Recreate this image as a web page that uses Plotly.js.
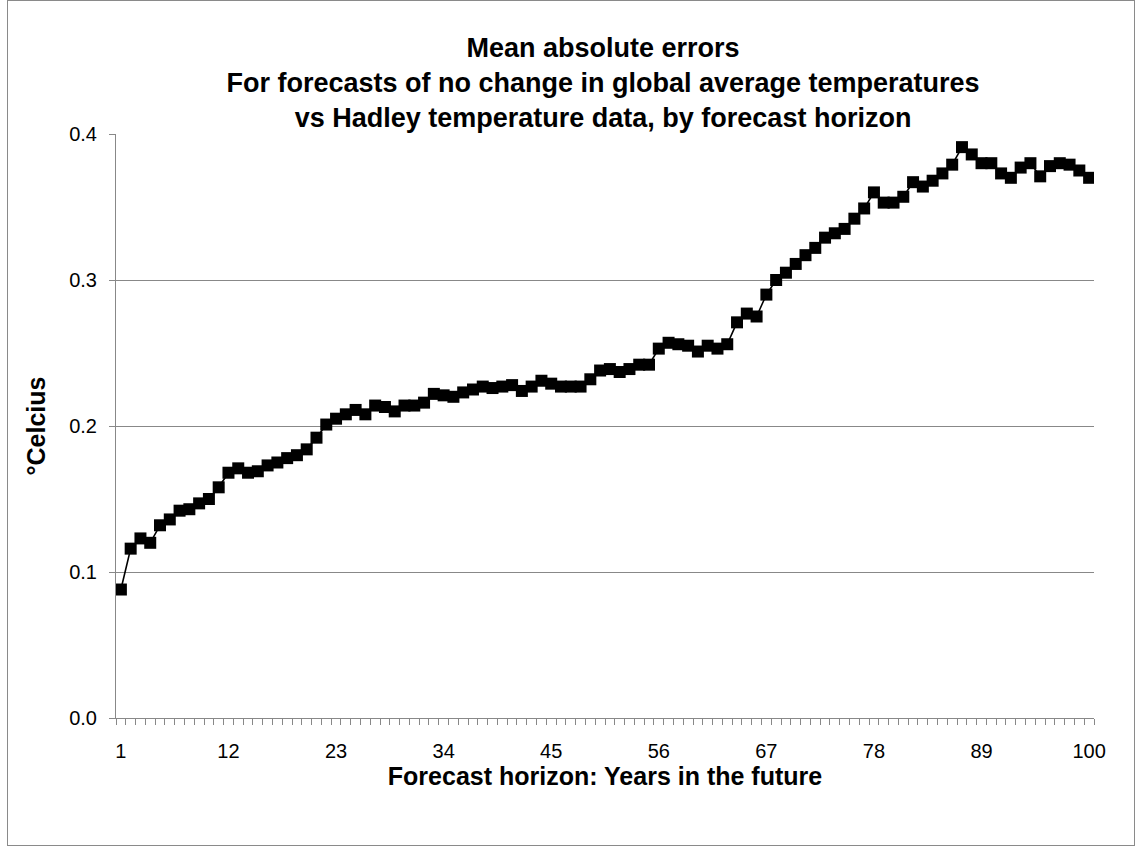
<!DOCTYPE html>
<html>
<head>
<meta charset="utf-8">
<script src="https://cdn.plot.ly/plotly-3.0.1.min.js"></script>
<style>
  html, body { margin: 0; padding: 0; background: #fff; }
  #frame { position: absolute; left: 7px; top: 0px; width: 1126px; height: 844px; border: 1px solid #8a8a8a; }
  #chart { position: absolute; left: 0; top: 0; width: 1135px; height: 846px; }
</style>
</head>
<body>
<div id="frame"></div>
<div id="chart"></div>
<script>
const horizons = Array.from({length: 100}, (_, i) => i + 1);
const meanAbsErrors = [
  0.088, 0.116, 0.123, 0.120, 0.132, 0.136, 0.142, 0.143, 0.147, 0.150,
  0.158, 0.168, 0.171, 0.168, 0.169, 0.173, 0.175, 0.178, 0.180, 0.184,
  0.192, 0.201, 0.205, 0.208, 0.211, 0.208, 0.214, 0.213, 0.210, 0.214,
  0.214, 0.216, 0.222, 0.221, 0.220, 0.223, 0.225, 0.227, 0.226, 0.227,
  0.228, 0.224, 0.227, 0.231, 0.229, 0.227, 0.227, 0.227, 0.232, 0.238,
  0.239, 0.237, 0.239, 0.242, 0.242, 0.253, 0.257, 0.256, 0.255, 0.251,
  0.255, 0.253, 0.256, 0.271, 0.277, 0.275, 0.290, 0.300, 0.305, 0.311,
  0.317, 0.322, 0.329, 0.332, 0.335, 0.342, 0.349, 0.360, 0.353, 0.353,
  0.357, 0.367, 0.364, 0.368, 0.373, 0.379, 0.391, 0.386, 0.380, 0.380,
  0.373, 0.370, 0.377, 0.380, 0.371, 0.378, 0.380, 0.379, 0.375, 0.370
];
const xTickVals = [1, 12, 23, 34, 45, 56, 67, 78, 89, 100];
const yTickVals = [0.0, 0.1, 0.2, 0.3, 0.4];

const titleText = 'Mean absolute errors<br>For forecasts of no change in global average temperatures<br>vs Hadley temperature data, by forecast horizon';
const xTitle = 'Forecast horizon: Years in the future';
const yTitle = '°Celcius';

const font = 'Liberation Sans, Arial, sans-serif';

const trace = {
  x: horizons,
  y: meanAbsErrors,
  type: 'scatter',
  mode: 'lines+markers',
  line: {color: '#000', width: 1.6},
  marker: {symbol: 'square', size: 12, color: '#000'},
  hoverinfo: 'x+y'
};

const layout = {
  width: 1135,
  height: 846,
  margin: {l: 116, r: 41, t: 134, b: 128},
  paper_bgcolor: 'rgba(0,0,0,0)',
  plot_bgcolor: '#fff',
  showlegend: false,
  font: {family: font, color: '#000'},
  title: {
    text: titleText,
    font: {family: font, size: 27, color: '#000', weight: 'bold'},
    x: 0.498, xanchor: 'center',
    y: 0.933, yanchor: 'middle',
    xref: 'paper'
  },
  xaxis: {
    range: [0.5, 100.5],
    tickmode: 'array',
    tickvals: xTickVals,
    ticktext: xTickVals.map(String),
    ticks: '',
    ticklabelstandoff: 15,
    tickfont: {family: font, size: 20, color: '#000'},
    showgrid: false,
    zeroline: false,
    showline: true,
    linecolor: '#888',
    linewidth: 1,
    minor: {tickmode: 'linear', tick0: 0.5, dtick: 1, ticks: 'outside', ticklen: 6, tickcolor: '#888', tickwidth: 1, showgrid: false},
    title: {text: xTitle, font: {family: font, size: 25, color: '#000', weight: 'bold'}, standoff: 4},
    fixedrange: true
  },
  yaxis: {
    range: [0, 0.4],
    tickmode: 'array',
    tickvals: yTickVals,
    ticktext: yTickVals.map(v => v.toFixed(1)),
    ticks: 'outside',
    ticklen: 6,
    tickcolor: '#888',
    ticklabelstandoff: 8,
    tickfont: {family: font, size: 20, color: '#000'},
    showgrid: true,
    gridcolor: '#888',
    gridwidth: 1,
    zeroline: false,
    showline: true,
    linecolor: '#888',
    linewidth: 1,
    title: {text: yTitle, font: {family: font, size: 25, color: '#000', weight: 'bold'}, standoff: 16},
    fixedrange: true
  }
};

Plotly.newPlot('chart', [trace], layout, {displayModeBar: false});
</script>
</body>
</html>
